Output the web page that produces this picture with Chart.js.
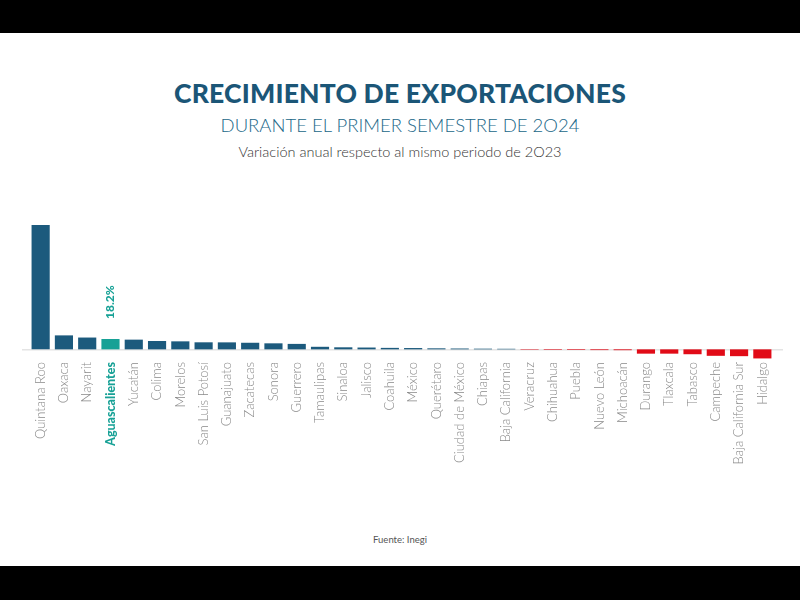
<!DOCTYPE html>
<html>
<head>
<meta charset="utf-8">
<script src="https://cdn.jsdelivr.net/npm/chart.js@4"></script>
<style>
  html, body { margin: 0; padding: 0; background: #000; }
  #page { position: absolute; left: 0; top: 33px; width: 800px; height: 533px; background: #fff; overflow: hidden; }
  .t { position: absolute; left: 0; width: 800px; text-align: center; white-space: nowrap; }
  #title { top: 44px; font: 900 26.5px Lato, sans-serif; color: #1b5677; letter-spacing: 0.2px; }
  #sub { top: 81px; font: 300 18.5px Lato, sans-serif; color: #216788; }
  #sub2 { top: 110px; font: 300 14.5px Lato, sans-serif; color: #333; }
  #src { top: 501px; font: 400 9.5px Lato, sans-serif; color: #555; }
  #wrap { position: absolute; left: 0; top: 157px; width: 800px; height: 320px; }
</style>
</head>
<body>
<div id="page">
  <div class="t" id="title">CRECIMIENTO DE EXPORTACIONES</div>
  <div class="t" id="sub">DURANTE EL PRIMER SEMESTRE DE 2O24</div>
  <div class="t" id="sub2">Variación anual respecto al mismo periodo de 2O23</div>
  <div id="wrap"><canvas id="myChart"></canvas></div>
  <div class="t" id="src">Fuente: Inegi</div>
</div>
<script>
// Estados
const states = [
  'Quintana Roo', 'Oaxaca', 'Nayarit', 'Aguascalientes', 'Yucatán', 'Colima',
  'Morelos', 'San Luis Potosí', 'Guanajuato', 'Zacatecas', 'Sonora', 'Guerrero',
  'Tamaulipas', 'Sinaloa', 'Jalisco', 'Coahuila', 'México', 'Querétaro',
  'Ciudad de México', 'Chiapas', 'Baja California', 'Veracruz', 'Chihuahua',
  'Puebla', 'Nuevo León', 'Michoacán', 'Durango', 'Tlaxcala', 'Tabasco',
  'Campeche', 'Baja California Sur', 'Hidalgo'
];

// Variación anual (%), solo Aguascalientes está rotulado
const growth = [
  219, 24.6, 20.8, 18.2, 17.1, 14.7,
  14.1, 12.4, 12.3, 11.6, 10.6, 9.6,
  4.5, 3.6, 3.2, 2.6, 2.3, 1.8,
  1.5, 1.2, 1.0, -0.8, -1.0,
  -1.1, -1.3, -1.5, -7.6, -7.6, -8.6,
  -11.4, -12, -16
];

const highlight = 'Aguascalientes';

const BLUE = '#1c5a7d';
const TEAL = '#17a196';
const RED = '#e10b17';

const barColors = states.map((s, i) =>
  s === highlight ? TEAL : (growth[i] < 0 ? RED : BLUE));

// línea del cero y etiqueta del estado resaltado
const extras = {
  id: 'extras',
  beforeDatasetsDraw(chart) {
    const ctx = chart.ctx;
    const y0 = chart.scales.y.getPixelForValue(0);
    ctx.save();
    ctx.strokeStyle = '#d6d6d6';
    ctx.lineWidth = 1;
    ctx.beginPath();
    ctx.moveTo(22, y0 + 0.5);
    ctx.lineTo(783, y0 + 0.5);
    ctx.stroke();
    ctx.restore();
  },
  afterDatasetsDraw(chart) {
    const ctx = chart.ctx;
    const i = states.indexOf(highlight);
    const x = chart.scales.x.getPixelForValue(i);
    const y = chart.scales.y.getPixelForValue(growth[i]);
    ctx.save();
    ctx.translate(x, y - 20);
    ctx.rotate(-Math.PI / 2);
    ctx.fillStyle = TEAL;
    ctx.font = '900 12px Lato, sans-serif';
    ctx.textAlign = 'left';
    ctx.textBaseline = 'middle';
    ctx.fillText(growth[i].toFixed(1) + '%', 0, 0);
    ctx.restore();
  }
};

new Chart(document.getElementById('myChart'), {
  type: 'bar',
  data: {
    labels: states,
    datasets: [{
      data: growth,
      backgroundColor: barColors,
      barPercentage: 0.78,
      categoryPercentage: 1
    }]
  },
  options: {
    responsive: true,
    maintainAspectRatio: false,
    animation: false,
    layout: { padding: { top: 35, left: 29, right: 26, bottom: 0 } },
    plugins: { legend: { display: false }, tooltip: { enabled: false } },
    scales: {
      y: {
        display: false,
        min: -17,
        max: 219
      },
      x: {
        grid: { display: false, drawTicks: false },
        border: { display: false },
        afterFit(scale) { scale.height = 151; },
        ticks: {
          autoSkip: false,
          minRotation: 90,
          maxRotation: 90,
          padding: 3,
          color: ctx => states[ctx.index] === highlight ? TEAL : '#8a8a8a',
          font: ctx => states[ctx.index] === highlight
            ? { family: 'Lato', size: 12.5, weight: '900' }
            : { family: 'Lato', size: 13, weight: '300' }
        }
      }
    }
  },
  plugins: [extras]
});
</script>
</body>
</html>
